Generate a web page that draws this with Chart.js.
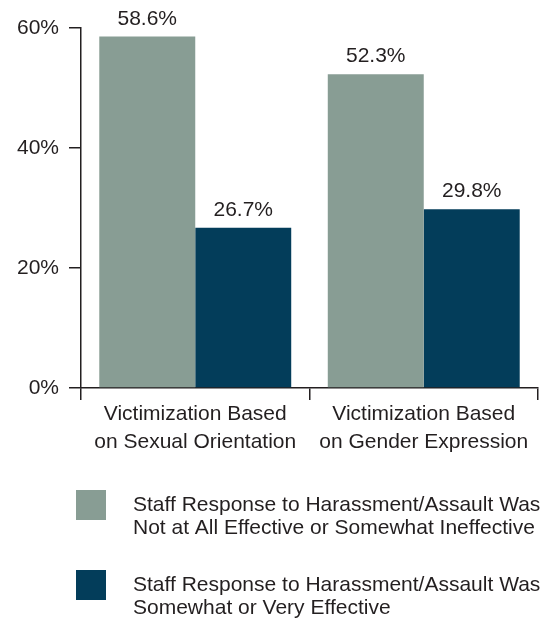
<!DOCTYPE html>
<html>
<head>
<meta charset="utf-8">
<script src="https://cdn.jsdelivr.net/npm/chart.js@4.4.0/dist/chart.umd.min.js"></script>
<style>
  body { margin: 0; background: #fff; }
  canvas { display: block; }
</style>
</head>
<body>
<canvas id="staffChart" width="546" height="624"></canvas>
<script>
const categories = [
  ['Victimization Based', 'on Sexual Orientation'],
  ['Victimization Based', 'on Gender Expression']
];
const seriesNames = [
  ['Staff Response to Harassment/Assault Was', 'Not at All Effective or Somewhat Ineffective'],
  ['Staff Response to Harassment/Assault Was', 'Somewhat or Very Effective']
];
const notEffective = [58.6, 52.3];
const veryEffective = [26.7, 29.8];
const yTicks = [0, 20, 40, 60];

const ink = '#231f20';
const fontName = '"Liberation Sans", Arial, sans-serif';

// value above each bar
const valueLabels = {
  id: 'valueLabels',
  afterDatasetsDraw(chart) {
    const ctx = chart.ctx;
    ctx.save();
    ctx.font = '21px ' + fontName;
    ctx.fillStyle = ink;
    ctx.textAlign = 'center';
    ctx.textBaseline = 'bottom';
    chart.data.datasets.forEach((ds, i) => {
      chart.getDatasetMeta(i).data.forEach((bar, j) => {
        ctx.fillText(ds.data[j].toFixed(1) + '%', bar.x, bar.y - 7);
      });
    });
    ctx.restore();
  }
};

// legend under the chart, two-line labels
const bottomLegend = {
  id: 'bottomLegend',
  afterDraw(chart) {
    const ctx = chart.ctx;
    ctx.save();
    ctx.font = '21px ' + fontName;
    ctx.textBaseline = 'middle';
    ctx.textAlign = 'left';
    chart.data.datasets.forEach((ds, i) => {
      const top = 490 + i * 80;
      ctx.fillStyle = ds.backgroundColor;
      ctx.fillRect(76, top, 30, 30);
      ctx.fillStyle = ink;
      ds.legendLines.forEach((line, k) => {
        ctx.fillText(line, 133, top + 15 + k * 23);
      });
    });
    ctx.restore();
  }
};

new Chart(document.getElementById('staffChart'), {
  type: 'bar',
  data: {
    labels: categories,
    datasets: [{
      label: seriesNames[0].join(' '),
      legendLines: seriesNames[0],
      data: notEffective,
      backgroundColor: '#889d94',
      categoryPercentage: 0.84,
      barPercentage: 1
    }, {
      label: seriesNames[1].join(' '),
      legendLines: seriesNames[1],
      data: veryEffective,
      backgroundColor: '#033d5a',
      categoryPercentage: 0.84,
      barPercentage: 1
    }]
  },
  options: {
    responsive: false,
    animation: false,
    devicePixelRatio: 1,
    layout: { padding: { top: 28, right: 8, bottom: 156, left: 0 } },
    plugins: {
      legend: { display: false },
      tooltip: { enabled: false }
    },
    scales: {
      x: {
        offset: true,
        afterFit: (scale) => { scale.height = 80; },
        grid: { offset: true, drawOnChartArea: false, tickLength: 12, color: ink, lineWidth: 1.5 },
        border: { color: ink, width: 1.5 },
        ticks: {
          color: ink,
          font: { family: fontName, size: 21, lineHeight: 1.3 },
          padding: 1,
          maxRotation: 0,
          autoSkip: false
        }
      },
      y: {
        min: 0,
        max: 60,
        afterFit: (scale) => { scale.width = 81; },
        afterBuildTicks: (scale) => { scale.ticks = yTicks.map(v => ({ value: v })); },
        grid: { drawOnChartArea: false, tickLength: 12, color: ink, lineWidth: 1.5 },
        border: { color: ink, width: 1.5 },
        ticks: {
          color: ink,
          font: { family: fontName, size: 21 },
          padding: 10,
          callback: (v) => v + '%'
        }
      }
    }
  },
  plugins: [valueLabels, bottomLegend]
});
</script>
</body>
</html>
